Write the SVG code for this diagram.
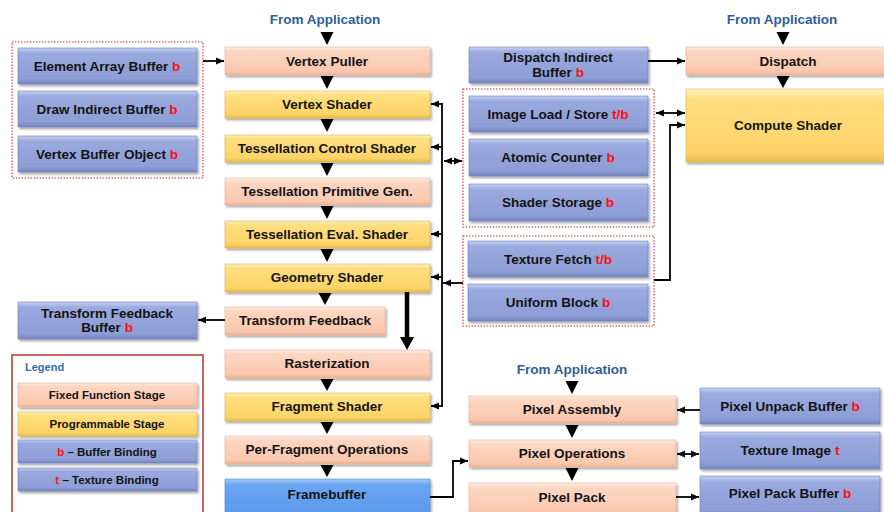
<svg xmlns="http://www.w3.org/2000/svg" width="884" height="512" viewBox="0 0 884 512">
<defs>
<linearGradient id="gP" x1="0" y1="0" x2="0" y2="1">
<stop offset="0" stop-color="#FFEDE4"/><stop offset="0.15" stop-color="#FCD6C2"/><stop offset="0.85" stop-color="#FAC8AE"/><stop offset="1" stop-color="#EDB396"/>
</linearGradient>
<linearGradient id="gY" x1="0" y1="0" x2="0" y2="1">
<stop offset="0" stop-color="#FFF2BE"/><stop offset="0.15" stop-color="#FFDE7E"/><stop offset="0.85" stop-color="#FCD468"/><stop offset="1" stop-color="#E8BC4E"/>
</linearGradient>
<linearGradient id="gB" x1="0" y1="0" x2="0" y2="1">
<stop offset="0" stop-color="#C8D1F2"/><stop offset="0.15" stop-color="#9AA9DE"/><stop offset="0.85" stop-color="#8E9ED6"/><stop offset="1" stop-color="#7585C0"/>
</linearGradient>
<linearGradient id="gF" x1="0" y1="0" x2="0" y2="1">
<stop offset="0" stop-color="#A6CAF8"/><stop offset="0.15" stop-color="#6AA6F2"/><stop offset="1" stop-color="#5A96EA"/>
</linearGradient>
<filter id="sh" x="-5%" y="-20%" width="110%" height="150%">
<feDropShadow dx="1.5" dy="2" stdDeviation="1" flood-color="#000" flood-opacity="0.35"/>
</filter>
<marker id="ah" markerUnits="userSpaceOnUse" markerWidth="9" markerHeight="8" refX="8" refY="4" orient="auto-start-reverse">
<path d="M0,0.5 L8,4 L0,7.5 z" fill="#000"/>
</marker>
<style>
.ff{fill:url(#gP);stroke:#E3AE94;stroke-width:0.6;filter:url(#sh)}
.pg{fill:url(#gY);stroke:#DDB04C;stroke-width:0.6;filter:url(#sh)}
.bf{fill:url(#gB);stroke:#6E7EB8;stroke-width:0.6;filter:url(#sh)}
.fb{fill:url(#gF);stroke:#4A86D8;stroke-width:0.6;filter:url(#sh)}
.t{font-family:"Liberation Sans",Arial,sans-serif;font-weight:bold;font-size:13.5px;fill:#141414;text-anchor:middle}
.s{font-size:11.5px}
.r{fill:#FF1010}
.app{font-family:"Liberation Sans",Arial,sans-serif;font-weight:bold;font-size:13.5px;fill:#2F5D9A;text-anchor:middle}
.grp{fill:none;stroke:#E07070;stroke-width:1.6;stroke-dasharray:1.4 1.6}
.c{fill:none;stroke:#000;stroke-width:1.8}
.tri{fill:#000}
</style>
</defs>

<!-- labels -->
<text class="app" x="325" y="24">From Application</text>
<text class="app" x="782" y="24">From Application</text>
<text class="app" x="572" y="374">From Application</text>

<!-- groups -->
<rect class="grp" x="12" y="42" width="191" height="136"/>
<rect class="grp" x="463" y="89" width="191" height="138"/>
<rect class="grp" x="463" y="236" width="191" height="90"/>

<!-- left buffers -->
<g id="element-array-buffer"><rect class="bf" x="18" y="48" width="179" height="36"/><text class="t" x="107" y="71">Element Array Buffer <tspan class="r">b</tspan></text></g>
<g id="draw-indirect-buffer"><rect class="bf" x="18" y="91" width="179" height="36"/><text class="t" x="107" y="114">Draw Indirect Buffer <tspan class="r">b</tspan></text></g>
<g id="vertex-buffer-object"><rect class="bf" x="18" y="136" width="179" height="36"/><text class="t" x="107" y="159">Vertex Buffer Object <tspan class="r">b</tspan></text></g>
<g id="transform-feedback-buffer"><rect class="bf" x="18" y="302" width="179" height="37"/><text class="t" x="107" y="318">Transform Feedback</text><text class="t" x="107" y="332">Buffer <tspan class="r">b</tspan></text></g>

<!-- center pipeline -->
<g id="vertex-puller"><rect class="ff" x="225" y="47" width="205" height="28"/><text class="t" x="327" y="66">Vertex Puller</text></g>
<g id="vertex-shader"><rect class="pg" x="225" y="91" width="205" height="27"/><text class="t" x="327" y="109">Vertex Shader</text></g>
<g id="tess-control-shader"><rect class="pg" x="225" y="135" width="205" height="27"/><text class="t" x="327" y="153">Tessellation Control Shader</text></g>
<g id="tess-primitive-gen"><rect class="ff" x="225" y="178" width="205" height="27"/><text class="t" x="327" y="196">Tessellation Primitive Gen.</text></g>
<g id="tess-eval-shader"><rect class="pg" x="225" y="221" width="205" height="27"/><text class="t" x="327" y="239">Tessellation Eval. Shader</text></g>
<g id="geometry-shader"><rect class="pg" x="225" y="264" width="205" height="28"/><text class="t" x="327" y="282">Geometry Shader</text></g>
<g id="transform-feedback"><rect class="ff" x="225" y="307" width="160" height="28"/><text class="t" x="305" y="325">Transform Feedback</text></g>
<g id="rasterization"><rect class="ff" x="225" y="350" width="205" height="28"/><text class="t" x="327" y="368">Rasterization</text></g>
<g id="fragment-shader"><rect class="pg" x="225" y="393" width="205" height="28"/><text class="t" x="327" y="411">Fragment Shader</text></g>
<g id="per-fragment-ops"><rect class="ff" x="225" y="436" width="205" height="28"/><text class="t" x="327" y="454">Per-Fragment Operations</text></g>
<g id="framebuffer"><rect class="fb" x="225" y="479" width="205" height="40"/><text class="t" x="327" y="499">Framebuffer</text></g>

<!-- middle buffers -->
<g id="dispatch-indirect-buffer"><rect class="bf" x="469" y="47" width="179" height="36"/><text class="t" x="558" y="62">Dispatch Indirect</text><text class="t" x="558" y="77">Buffer <tspan class="r">b</tspan></text></g>
<g id="image-load-store"><rect class="bf" x="469" y="96" width="179" height="36"/><text class="t" x="558" y="119">Image Load / Store <tspan class="r">t/b</tspan></text></g>
<g id="atomic-counter"><rect class="bf" x="469" y="139" width="179" height="37"/><text class="t" x="558" y="162">Atomic Counter <tspan class="r">b</tspan></text></g>
<g id="shader-storage"><rect class="bf" x="469" y="184" width="179" height="37"/><text class="t" x="558" y="207">Shader Storage <tspan class="r">b</tspan></text></g>
<g id="texture-fetch"><rect class="bf" x="468" y="241" width="180" height="36"/><text class="t" x="558" y="264">Texture Fetch <tspan class="r">t/b</tspan></text></g>
<g id="uniform-block"><rect class="bf" x="468" y="284" width="180" height="37"/><text class="t" x="558" y="307">Uniform Block <tspan class="r">b</tspan></text></g>

<!-- compute -->
<g id="dispatch"><rect class="ff" x="686" y="47" width="205" height="28"/><text class="t" x="788" y="66">Dispatch</text></g>
<g id="compute-shader"><rect class="pg" x="686" y="89" width="205" height="73"/><text class="t" x="788" y="130">Compute Shader</text></g>

<!-- pixel path -->
<g id="pixel-assembly"><rect class="ff" x="469" y="396" width="207" height="27"/><text class="t" x="572" y="414">Pixel Assembly</text></g>
<g id="pixel-operations"><rect class="ff" x="469" y="440" width="207" height="27"/><text class="t" x="572" y="458">Pixel Operations</text></g>
<g id="pixel-pack"><rect class="ff" x="469" y="483" width="207" height="34"/><text class="t" x="572" y="502">Pixel Pack</text></g>
<g id="pixel-unpack-buffer"><rect class="bf" x="700" y="388" width="180" height="36"/><text class="t" x="790" y="411">Pixel Unpack Buffer <tspan class="r">b</tspan></text></g>
<g id="texture-image"><rect class="bf" x="700" y="432" width="180" height="37"/><text class="t" x="790" y="455">Texture Image <tspan class="r">t</tspan></text></g>
<g id="pixel-pack-buffer"><rect class="bf" x="700" y="476" width="180" height="40"/><text class="t" x="790" y="498">Pixel Pack Buffer <tspan class="r">b</tspan></text></g>

<!-- legend -->
<g id="legend">
<rect x="12" y="355" width="191" height="162" fill="#fff" stroke="#C86464" stroke-width="2"/>
<text x="25" y="371" font-family="Liberation Sans,Arial,sans-serif" font-weight="bold" font-size="11px" fill="#2F6CB0">Legend</text>
<rect class="ff" x="18" y="383" width="179" height="24"/><text class="t s" x="107" y="399">Fixed Function Stage</text>
<rect class="pg" x="18" y="412" width="179" height="24"/><text class="t s" x="107" y="428">Programmable Stage</text>
<rect class="bf" x="18" y="440" width="179" height="23"/><text class="t s" x="107" y="456"><tspan class="r">b</tspan> – Buffer Binding</text>
<rect class="bf" x="18" y="468" width="179" height="23"/><text class="t s" x="107" y="484"><tspan class="r">t</tspan> – Texture Binding</text>
</g>

<!-- connectors -->
<g id="connectors">
<polygon class="tri" points="320.5,32 333.5,32 327,45"/>
<polygon class="tri" points="320.5,76 333.5,76 327,89"/>
<polygon class="tri" points="320.5,119 333.5,119 327,132"/>
<polygon class="tri" points="320.5,163 333.5,163 327,176"/>
<polygon class="tri" points="320.5,206 333.5,206 327,219"/>
<polygon class="tri" points="320.5,249 333.5,249 327,262"/>
<polygon class="tri" points="318.5,293 331.5,293 325,305"/>
<polygon class="tri" points="320.5,379 333.5,379 327,391"/>
<polygon class="tri" points="320.5,422 333.5,422 327,434"/>
<polygon class="tri" points="320.5,465 333.5,465 327,477"/>
<polygon class="tri" points="776.5,32 789.5,32 783,45"/>
<polygon class="tri" points="776.5,76 789.5,76 783,88"/>
<polygon class="tri" points="565.5,381 578.5,381 572,394"/>
<polygon class="tri" points="565.5,425 578.5,425 572,438"/>
<polygon class="tri" points="565.5,468 578.5,468 572,481"/>

<path class="c" d="M203,61 H224" marker-end="url(#ah)"/>
<path class="c" d="M442,103 V407"/>
<path class="c" d="M443,104 H431" marker-end="url(#ah)"/>
<path class="c" d="M443,147 H431" marker-end="url(#ah)"/>
<path class="c" d="M443,234 H431" marker-end="url(#ah)"/>
<path class="c" d="M443,277 H431" marker-end="url(#ah)"/>
<path class="c" d="M443,406 H431" marker-end="url(#ah)"/>
<path class="c" d="M444,161 H462" marker-start="url(#ah)" marker-end="url(#ah)"/>
<path class="c" d="M463,283 H443" marker-end="url(#ah)"/>
<path class="c" d="M648,61 H685" marker-end="url(#ah)"/>
<path class="c" d="M656,113 H685" marker-start="url(#ah)" marker-end="url(#ah)"/>
<path class="c" d="M654,280 H670 V125 H685" marker-end="url(#ah)"/>
<path class="c" d="M225,320 H198" marker-end="url(#ah)"/>
<path d="M407,292 V338" stroke="#000" stroke-width="4.5" fill="none"/>
<polygon class="tri" points="400,337 414,337 407,350"/>
<path class="c" d="M430,497 H453 V461 H468" marker-end="url(#ah)"/>
<path class="c" d="M700,410 H677" marker-end="url(#ah)"/>
<path class="c" d="M677,454 H699" marker-start="url(#ah)" marker-end="url(#ah)"/>
<path class="c" d="M676,497 H699" marker-end="url(#ah)"/>
</g>
</svg>
